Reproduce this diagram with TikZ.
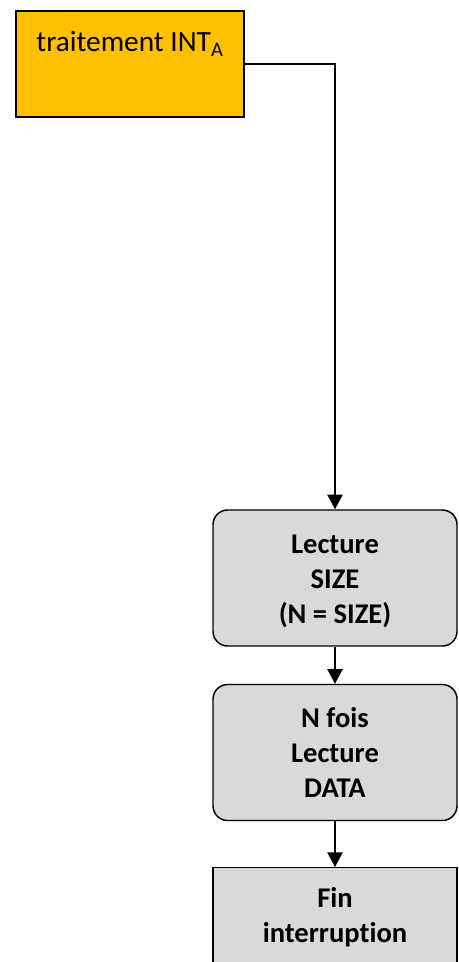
\documentclass[tikz,border=0pt]{standalone}
\usepackage{fontspec}
\setmainfont{Carlito}[Ligatures=NoCommon]
\usetikzlibrary{arrows.meta}
\definecolor{amber}{HTML}{FFC000}
\definecolor{stepgray}{HTML}{D9D9D9}
\tikzset{
  flow/.style={line width=1.1pt, -{Triangle[length=11pt,width=11.5pt]}},
  startbox/.style={draw, line width=1.1pt, fill=amber, rectangle,
    minimum width=171pt, inner xsep=0pt, inner ysep=0pt,
    text height=30.75pt, text depth=48.75pt,
    font=\fontsize{22pt}{26pt}\selectfont},
  stepbox/.style={draw, line width=1.1pt, fill=stepgray, rectangle,
    minimum width=183pt, minimum height=102pt, rounded corners=11pt,
    align=center, font=\bfseries\fontsize{21.4pt}{26.25pt}\selectfont},
  endbox/.style={stepbox, rounded corners=0pt, minimum height=74pt}
}
\begin{document}
\begin{tikzpicture}[x=0.75pt, y=-0.75pt]
  \useasboundingbox (0,0) rectangle (459,962);
  % entry routine
  \node[startbox] (start) at (130,64) {traitement INT\textsubscript{A}};
  % processing steps
  \node[stepbox] (size) at (335,578) {\strut Lecture\\SIZE\\(N = SIZE)};
  \node[stepbox] (data) at (335,752.5) {N fois\\Lecture\\DATA};
  \node[endbox, anchor=north] (fin) at (335,867) {Fin\\interruption};
  % connectors
  \draw[flow] (start.east) -| (size.north);
  \draw[flow] (size.south) -- (data.north);
  \draw[flow] (data.south) -- (fin.north);
\end{tikzpicture}
\end{document}
